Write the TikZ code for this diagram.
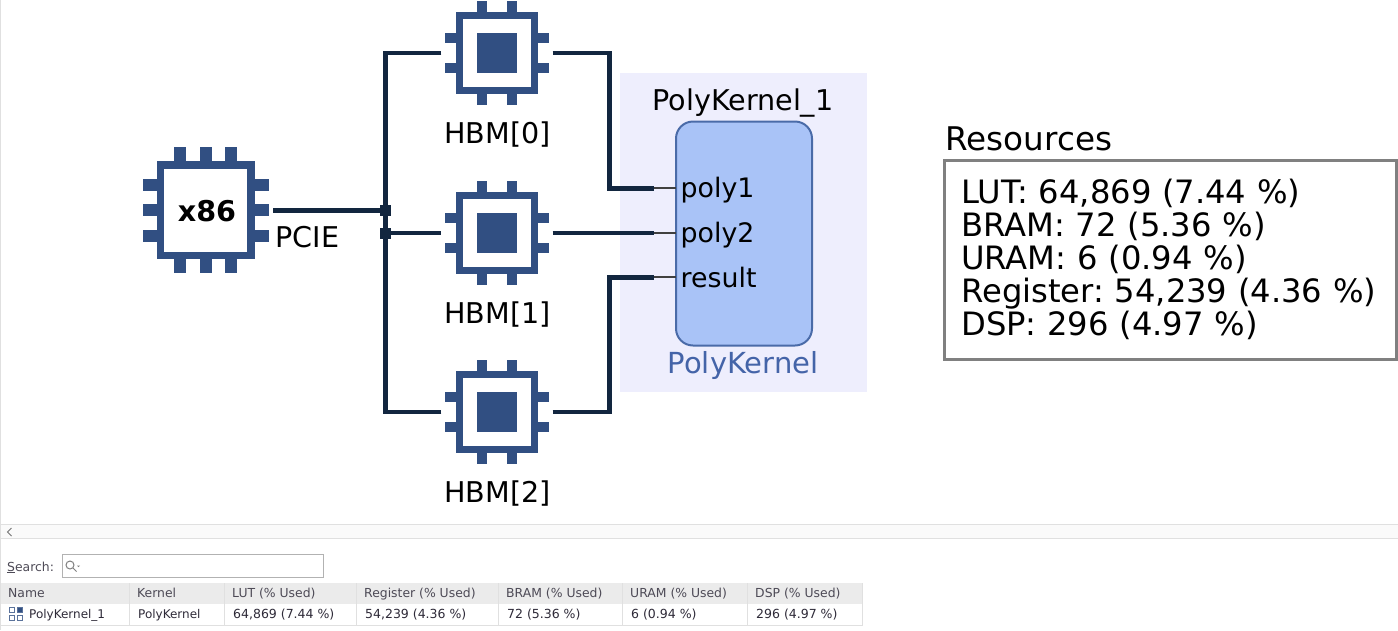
\documentclass[tikz,border=0pt]{standalone}
\usepackage{fontspec}
\setmainfont{DejaVu Sans}
\usetikzlibrary{positioning}
\definecolor{chipblue}{HTML}{314F82}
\definecolor{wirenavy}{HTML}{12263F}
\definecolor{panelbg}{HTML}{EEEEFD}
\definecolor{kernelfill}{HTML}{A9C3F7}
\definecolor{kerneledge}{HTML}{4A6BA8}
\definecolor{kerneltext}{HTML}{4464A8}
\definecolor{gridgray}{HTML}{E0E0E0}
\definecolor{headgray}{HTML}{EBEBEB}
\definecolor{tabletext}{HTML}{2E2A38}
\frenchspacing

\begin{document}
\begin{tikzpicture}[
    x=1pt, y=-1pt,
    every node/.style={font=\fontsize{28.6}{33}\selectfont, inner sep=0pt},
    chiplabel/.style={anchor=base},
    chipbig/.style={rectangle, draw=chipblue, fill=white, line width=7.7pt, minimum size=90.5pt, outer xsep=22.3pt, outer ysep=0pt},
    chipsmall/.style={rectangle, draw=chipblue, fill=white, line width=6.5pt, minimum size=75pt, outer xsep=18.1pt, outer ysep=0pt},
    chipcore/.style={rectangle, fill=chipblue, minimum size=39.4pt},
    pinbig/.style={chipblue, line width=12pt},
    pinsmall/.style={chipblue, line width=10pt},
    wire/.style={wirenavy, line width=4.6pt},
    stub/.style={black!75, line width=1.8pt},
    junction/.style={rectangle, fill=wirenavy, minimum size=11pt},
    portlabel/.style={anchor=base west, font=\fontsize{26.8}{30}\selectfont},
    headcell/.style={anchor=base west, text=tabletext!85, font=\fontsize{12.4}{14}\selectfont},
    rowcell/.style={anchor=base west, text=tabletext, font=\fontsize{12.5}{14}\selectfont},
    iconbox/.style={rectangle, draw=chipblue!80, line width=1pt, minimum size=5pt}
]
\useasboundingbox (0,0) rectangle (1398,630);
\fill[white] (0,0) rectangle (1398,630);
\draw[gridgray, line width=1pt] (0.5,0) -- (0.5,630);

% host chip
\foreach \d in {-25.5,0,25.5} {
    \draw[pinbig] (205.8+\d,147.3) -- (205.8+\d,272.7);
    \draw[pinbig] (143.3,210+\d) -- (269,210+\d);
}
\node[chipbig] (x86) at (205.8,210.2) {};
\node[chiplabel] (x86txt) at (207,221.5) {\bfseries x86};
\node[chiplabel] (pcie) at (307.5,247.2) {PCIE};

% memory chips
\foreach \n/\cy in {0/53,1/233,2/412} {
    \foreach \d in {-14.7,14.7} {
        \draw[pinsmall] (497+\d,\cy-52) -- (497+\d,\cy+52);
        \draw[pinsmall] (445.3,\cy+\d) -- (549,\cy+\d);
    }
    \node[chipsmall] (hbm\n) at (497,\cy) {};
    \node[chipcore] (core\n) at (497,\cy) {};
    \node[chiplabel] (hbmtxt\n) at (497.5,\cy+90) {HBM[\n]};
}

% kernel panel
\fill[panelbg] (620,73) rectangle (867,392);
\node[rectangle, draw=kerneledge, fill=kernelfill, line width=2pt, rounded corners=17pt, minimum width=136pt, minimum height=224pt] (kernel) at (744,233.5) {};
\node[chiplabel] (inst) at (743,110) {PolyKernel\_1};
\node[chiplabel, text=kerneltext, font=\fontsize{29}{33}\selectfont] (kerneltxt) at (743,373.2) {PolyKernel};
\node[portlabel] (poly1) at (680.5,197) {poly1};
\node[portlabel] (poly2) at (680.5,242) {poly2};
\node[portlabel] (result) at (680.5,287) {result};

% port stubs
\coordinate (stub1) at (654,188.3);
\coordinate (stub2) at (654,233);
\coordinate (stub3) at (654,277.3);
\coordinate (edge1) at (676,188.3);
\coordinate (edge2) at (676,233);
\coordinate (edge3) at (676,277.3);
\draw[stub] (stub1) -- (edge1);
\draw[stub] (stub2) -- (edge2);
\draw[stub] (stub3) -- (edge3);

% bus
\node[junction] (j1) at (385.5,210.2) {};
\node[junction] (j2) at (385.5,233) {};
\draw[wire] (x86.east) -- (j1.center);
\draw[wire] (hbm0.west) -| (j2.center);
\draw[wire] (hbm2.west) -| (j2.center);
\draw[wire] (j2.center) -- (hbm1.west);

% to the kernel
\coordinate (bend0) at (609.3,53);
\coordinate (bend2) at (609.3,412);
\draw[wire] (hbm0.east) -- (bend0) |- (stub1);
\draw[wire] (hbm1.east) -- (stub2);
\draw[wire] (hbm2.east) -- (bend2) |- (stub3);

% resources
\node[anchor=base west, font=\fontsize{32.6}{36}\selectfont] (restitle) at (945.5,150) {Resources};
\node[anchor=north west, draw=black!50, line width=3pt, minimum width=451.5pt, minimum height=199pt, text width=418pt, inner xsep=16.7pt, align=left, font=\fontsize{32.2}{33}\selectfont] (resbox) at (943,158.7)
    {LUT: 64,869 (7.44 \%)\\BRAM: 72 (5.36 \%)\\URAM: 6 (0.94 \%)\\Register: 54,239 (4.36 \%)\\DSP: 296 (4.97 \%)};

% scroll strip
\fill[black!2] (1,524) rectangle (1398,538);
\draw[gridgray, line width=1pt] (1,524.5) -- (1398,524.5);
\draw[gridgray, line width=1pt] (1,538.5) -- (1398,538.5);
\draw[black!55, line width=1pt] (11.5,528) -- (7.5,532) -- (11.5,536);

% search field
\node[headcell] (search) at (7,571) {\underline{S}earch:};
\node[rectangle, draw=black!30, line width=1pt, minimum width=261pt, minimum height=23pt] (field) at (193,566) {};
\draw[black!50, line width=1pt] (70,565) circle (4pt) (73,568) -- (76.5,571.5);
\fill[black!50] (77,565.5) -- (80,565.5) -- (78.5,567) -- cycle;

% table
\fill[headgray] (1,583) rectangle (862.5,604);
\draw[gridgray, line width=1pt] (1,625.5) -- (862.5,625.5);
\foreach \cx in {129.5,224.5,356.5,498.5,622.5,747.5,862.5} {
    \draw[gridgray, line width=1pt] (\cx,583) -- (\cx,625.5);
}
\node[headcell] (hname) at (8,597.7) {Name};
\node[headcell] (hkernel) at (137,597.7) {Kernel};
\node[headcell] (hlut) at (232,597.7) {LUT (\% Used)};
\node[headcell] (hreg) at (364,597.7) {Register (\% Used)};
\node[headcell] (hbram) at (506,597.7) {BRAM (\% Used)};
\node[headcell] (huram) at (630,597.7) {URAM (\% Used)};
\node[headcell] (hdsp) at (755,597.7) {DSP (\% Used)};
\node[rowcell, font=\fontsize{12}{14}\selectfont] (rname) at (29,618) {PolyKernel\_1};
\node[rowcell, font=\fontsize{12}{14}\selectfont] (rkernel) at (138,618) {PolyKernel};
\node[rowcell] (rlut) at (233,618) {64,869 (7.44 \%)};
\node[rowcell] (rreg) at (365,618) {54,239 (4.36 \%)};
\node[rowcell] (rbram) at (507,618) {72 (5.36 \%)};
\node[rowcell] (ruram) at (631,618) {6 (0.94 \%)};
\node[rowcell] (rdsp) at (756,618) {296 (4.97 \%)};

% row icon
\node[iconbox] (icon1) at (12,610.2) {};
\node[iconbox, fill=chipblue] (icon2) at (20,610.2) {};
\node[iconbox] (icon3) at (12,617.7) {};
\node[iconbox] (icon4) at (20,617.7) {};

\end{tikzpicture}
\end{document}
